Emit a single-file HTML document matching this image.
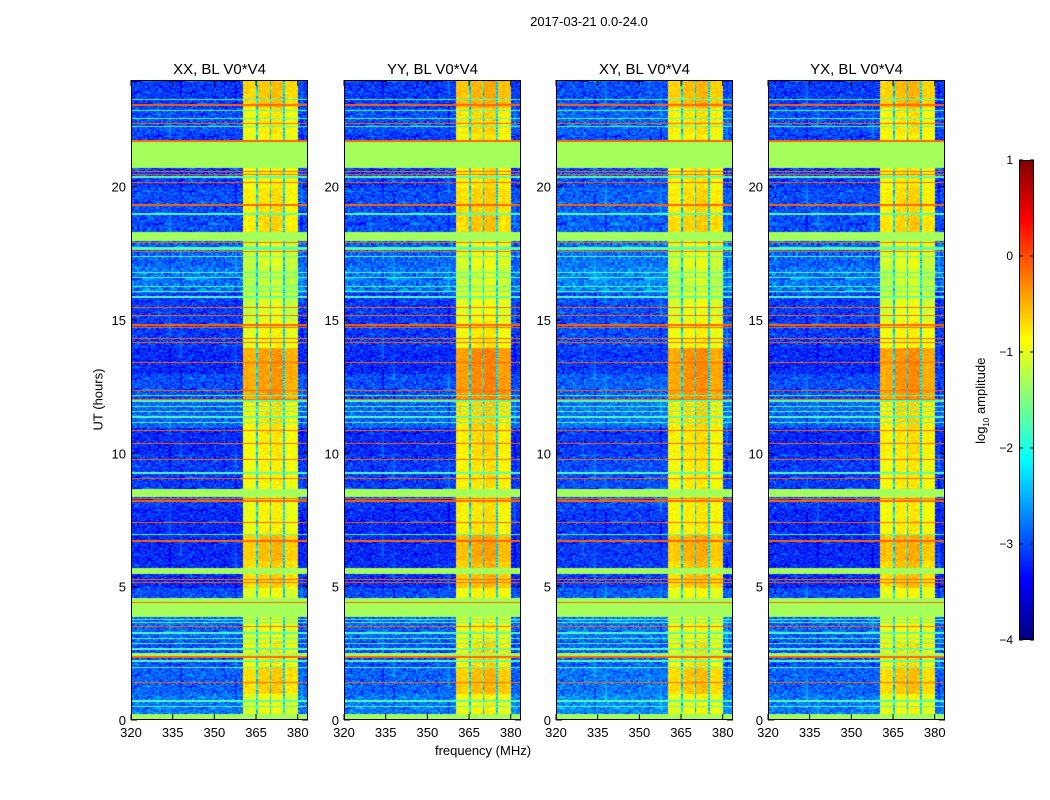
<!DOCTYPE html>
<html><head><meta charset="utf-8">
<style>
body{margin:0;background:#fff;font-family:"Liberation Sans",sans-serif;}
#wrap{position:relative;width:1050px;height:800px;overflow:hidden;background:#fff;}
.t{position:absolute;color:#000;white-space:nowrap;}
canvas{position:absolute;}
</style></head>
<body>
<div id="wrap">
<div class="t" style="left:489px;top:14px;width:200px;text-align:center;font-size:13px;">2017-03-21 0.0-24.0</div>
<div class="t" style="left:383px;top:743px;width:200px;text-align:center;font-size:13px;">frequency (MHz)</div>
<div class="t" style="left:48px;top:392px;width:100px;text-align:center;font-size:13px;transform:rotate(-90deg);">UT (hours)</div>
<div class="t" style="left:922px;top:392px;width:120px;text-align:center;font-size:13px;transform:rotate(-90deg);">log<sub style="font-size:8px">10</sub> amplitude</div>
<svg id="ov" width="1050" height="800" style="position:absolute;left:0;top:0"></svg>
</div>
<script>
// ---- data ----
const panelTitles = ["XX, BL V0*V4","YY, BL V0*V4","XY, BL V0*V4","YX, BL V0*V4"];
const xTicks = [320,335,350,365,380];
const yTicks = [0,5,10,15,20];
const cbTicks = [1,0,-1,-2,-3,-4];
// band columns [startMHz, endMHz, offset]
const bandCols = [[360.3,365.0,-0.05],[365.7,369.9,0.05],[370.5,374.9,0.1],[375.8,380.0,-0.05]];
// hourly band level and background level (log10 amplitude)
const bandLevel = [-1.0,-0.7,-0.85,-1.0,-1.0,-0.7,-0.6,-0.9,-0.9,-0.9,-0.85,-0.8,-0.45,-0.45,-0.95,-1.1,-1.2,-1.1,-0.75,-0.8,-0.9,-0.95,-0.85,-0.65];
const bgLevel = [-2.8,-2.9,-3.0,-2.9,-3.0,-3.2,-3.2,-3.2,-3.1,-3.1,-3.2,-2.9,-3.0,-3.2,-3.1,-3.1,-2.8,-2.9,-3.0,-3.0,-3.1,-3.1,-3.0,-3.1];
// flagged time ranges (hours)
const flagRanges = [[20.75,21.75],[18.0,18.3],[8.4,8.7],[5.5,5.75],[3.9,4.6],[2.45,2.55],[0.05,0.25]];
const flagValue = -1.32;
// RFI lines (hours)
const rfiLines = [23.1,22.4,21.75,20.6,20.5,20.2,19.35,18.7,17.9,17.6,15.5,15.2,14.85,14.75,14.35,14.2,13.45,12.4,12.05,10.9,10.4,9.8,9.1,8.35,8.25,7.45,6.75,5.3,5.2,4.45,3.55,2.4,1.45];
const rfiValue = -0.12;
// lighter lines (hours)
const lightLines = [0.55,0.75,2.0,2.25,2.7,2.9,3.1,3.3,3.7,3.8,7.0,9.3,11.2,11.4,11.6,11.8,12.0,12.2,15.9,16.1,16.3,16.6,16.8,17.0,17.2,17.4,17.7,19.0,20.4,22.3,22.6,22.9,23.3];
const lightValue = -1.7;
const panelBandShift = [0,0.1,0.05,0.05];
const panelBgShift = [0,0,0.1,0];

// ---- layout ----
const panelX = [131,344,556,768], PW=177, PT=80, PH=640;
const fMin=320,fMax=383.7,tMin=0,tMax=24,vMin=-4,vMax=1;
const xs = (f,p)=>panelX[p]+(f-fMin)/(fMax-fMin)*PW;
const ys = h=>PT+PH-(h-tMin)/(tMax-tMin)*PH;
function jet(v){
  let t=Math.max(0,Math.min(1,(v-vMin)/(vMax-vMin)));
  const c=x=>Math.round(255*Math.max(0,Math.min(1,x)));
  return `rgb(${c(1.5-Math.abs(4*t-3))},${c(1.5-Math.abs(4*t-2))},${c(1.5-Math.abs(4*t-1))})`;
}
const wrap=document.getElementById('wrap');
const ov=document.getElementById('ov');
const NS='http://www.w3.org/2000/svg';
function sv(tag,attrs,parent){const e=document.createElementNS(NS,tag);for(const k in attrs)e.setAttribute(k,attrs[k]);(parent||ov).appendChild(e);return e;}

const NF=177, NT=640;
for(let p=0;p<4;p++){
  const cv=document.createElement('canvas');
  
  
  cv.width=PW;cv.height=PH;cv.style.left=panelX[p]+'px';cv.style.top=PT+'px';
  wrap.insertBefore(cv,ov);
  const ctx=cv.getContext('2d');
  const dh=(tMax-tMin)/NT;
  for(let r=0;r<NT;r++){
    const h0=tMin+r*dh, h1=h0+dh, hc=(h0+h1)/2;
    const hi=Math.min(23,Math.floor(hc));
    let rowOverride=null;
    for(const [a,b] of flagRanges) if(hc>=a&&hc<b) rowOverride=flagValue;
    for(const l of lightLines) if(Math.abs(hc-l)<dh*0.6) rowOverride=lightValue;
    for(const l of rfiLines) if(Math.abs(hc-l)<dh*0.8) rowOverride=rfiValue;
    for(let c=0;c<NF;c++){
      const f0=fMin+c*(fMax-fMin)/NF, f1=f0+(fMax-fMin)/NF, fc=(f0+f1)/2;
      let v;
      if(rowOverride!==null) v=rowOverride;
      else{
        let inBand=null;
        for(const b of bandCols) if(fc>=b[0]&&fc<b[1]) inBand=b;
        const k=(r*31+c*17+p*7+((r*c)%11))%9;
        const tex=(k-4)*0.09;
        if(inBand) v=bandLevel[hi]+inBand[2]+panelBandShift[p]+tex*0.4;
        else if(fc>=360.3&&fc<380) v=-2.3+tex;
        else v=bgLevel[hi]+panelBgShift[p]+tex;
      }
      ctx.fillStyle=jet(v);
      const x0=(f0-fMin)/(fMax-fMin)*PW;
      const y0=PH-(h1/(tMax-tMin))*PH;
      ctx.fillRect(Math.floor(x0),Math.floor(y0),2,2);
    }
  }
  const g=sv('g',{});
  
  
  const fr=sv('rect',{x:panelX[p]+0.5,y:PT+0.5,width:PW-1,height:PH-1,fill:'none',stroke:'#000','stroke-width':1},g);
  
  
  const tt=sv('text',{x:panelX[p]+PW/2,y:74,'text-anchor':'middle','font-size':15,'font-family':'Liberation Sans, sans-serif'},g);
  tt.textContent=panelTitles[p];
  
  
  for(const t of xTicks){
    const x=xs(t,p);
    sv('line',{x1:x,x2:x,y1:PT+PH,y2:PT+PH-6,stroke:'#000'},g);
    sv('line',{x1:x,x2:x,y1:PT,y2:PT+6,stroke:'#000'},g);
    const lt=sv('text',{x:x,y:PT+PH+17,'text-anchor':'middle','font-size':13,'font-family':'Liberation Sans, sans-serif'},g);
    lt.textContent=t;
    
    
  }
  for(const t of yTicks){
    const y=ys(t);
    sv('line',{x1:panelX[p],x2:panelX[p]+6,y1:y,y2:y,stroke:'#000'},g);
    sv('line',{x1:panelX[p]+PW,x2:panelX[p]+PW-6,y1:y,y2:y,stroke:'#000'},g);
    const lt=sv('text',{x:panelX[p]-5,y:y+5,'text-anchor':'end','font-size':13,'font-family':'Liberation Sans, sans-serif'},g);
    lt.textContent=t;
    
    
  }
}
// colorbar
const cbX=1019,cbW=15,cbT=160,cbH=480;
const cb=document.createElement('canvas');


cb.width=cbW;cb.height=cbH;cb.style.left=cbX+'px';cb.style.top=cbT+'px';
wrap.insertBefore(cb,ov);
const cctx=cb.getContext('2d');
for(let i=0;i<cbH;i++){cctx.fillStyle=jet(vMax-(i+0.5)/cbH*(vMax-vMin));cctx.fillRect(0,i,cbW,1);}
sv('rect',{x:cbX+0.5,y:cbT+0.5,width:cbW-1,height:cbH-1,fill:'none',stroke:'#000'});
for(const t of cbTicks){
  const y=cbT+(vMax-t)/(vMax-vMin)*cbH;
  sv('line',{x1:cbX,x2:cbX+4,y1:y,y2:y,stroke:'#000'});
  sv('line',{x1:cbX+cbW,x2:cbX+cbW-4,y1:y,y2:y,stroke:'#000'});
  const lt=sv('text',{x:cbX-6,y:y+4,'text-anchor':'end','font-size':12,'font-family':'Liberation Sans, sans-serif'});
  lt.textContent=t<0?'\u2212'+(-t):t;
  
  
}
</script>
</body></html>
